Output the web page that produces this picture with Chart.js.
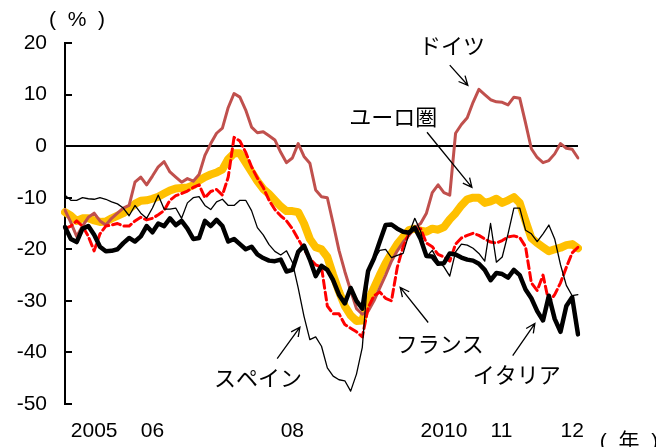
<!DOCTYPE html>
<html>
<head>
<meta charset="utf-8">
<script src="https://cdn.jsdelivr.net/npm/chart.js@4.4.1/dist/chart.umd.min.js"></script>
<style>
  html, body { margin: 0; padding: 0; background: #fff; }
  #wrap { width: 656px; height: 447px; }
</style>
</head>
<body>
<div id="wrap"><canvas id="mycanvas"></canvas></div>
<script>
// monthly, 2005/1 - 2012/5
var years = [2005, 2006, 2007, 2008, 2009, 2010, 2011, 2012];
var months = [];
for (var y = 0; y < years.length; y++) {
  for (var m = 1; m <= 12; m++) {
    if (years[y] == 2012 && m > 5) break;
    months.push(years[y] + '/' + m);
  }
}

var tickMonths = ['2005/2', '2006/2', '2008/2', '2010/2', '2011/2', '2012/2'];
var tickTexts  = ['2005', '06', '08', '2010', '11', '12'];

var germany = [-12.4,-14.8,-17.5,-15.5,-13.8,-13,-14.5,-15.3,-14,-13,-12,-11.5,
  -7,-6,-7.5,-5.8,-4,-3,-5,-6,-7,-6.3,-6.8,-5.5,
  -1.8,0.5,2.5,3.5,7.5,10.2,9.5,7,3.7,2.6,2.8,2,
  1.2,-1.2,-3.2,-2.3,0.5,-2,-3.3,-8.5,-9.8,-10,-15,-20.2,
  -24.3,-28,-31.5,-32.6,-32,-30,-27.5,-25,-22.3,-20.3,-18.6,-17.3,
  -15.8,-15,-13,-9,-7.5,-9,-9.5,2.5,4.2,5.5,8.5,11,
  10,9,8.6,8.5,8,9.5,9.3,4.5,-0.5,-2.2,-3.2,-2.8,
  -1.5,0.5,-0.4,-0.6,-2.3];

var euroArea = [-12.8,-13.5,-14.5,-14,-14,-14.4,-14.7,-14.6,-14,-13.5,-13,-12.2,
  -11.2,-10.6,-10.5,-10.2,-9.8,-9.2,-8.6,-8.2,-8.1,-8,-7.6,-6.7,
  -6,-5.5,-5.1,-4.5,-2.5,-1.4,-1.4,-3.2,-5,-6.8,-8.3,-9.3,
  -10.5,-11.7,-12.6,-12.6,-12.8,-15,-18,-19.6,-20,-21.5,-25,-28.2,
  -31,-32.8,-33.9,-33.8,-30,-27.5,-25,-22.7,-20.8,-19,-17.6,-16.3,
  -16,-16.4,-16.6,-16,-16.2,-15.7,-14.2,-13,-11.5,-10.3,-10,-10,
  -11,-10.7,-10.2,-11,-10.5,-9.9,-11,-14.5,-17.8,-18.8,-19.6,-20.4,
  -20,-19.7,-19.2,-19,-19.8];

var france = [-16,-15.5,-14.5,-15.5,-17.5,-20.3,-17,-15.5,-15.3,-15,-15.5,-15.5,
  -14.5,-13.8,-14.3,-14,-13.3,-12.5,-10.5,-9.6,-9.2,-8.7,-8,-7.5,
  -10,-8.8,-8.4,-9.5,-6,1.7,1,-1.2,-4,-6.2,-8,-10.5,
  -12.3,-13.5,-14.5,-16,-18,-20,-21.8,-23,-23.5,-31,-32.5,-32.5,
  -34.6,-35.3,-36,-37,-31.3,-29,-28.3,-29.5,-30,-23.5,-19.5,-17,
  -16,-16,-18.8,-19.5,-21,-21.5,-22.3,-19,-17.8,-17.3,-16.9,-17.3,
  -18,-18.6,-18.8,-18.3,-17.6,-17.4,-17.7,-19.5,-26.5,-28,-25,-30.3,
  -28.8,-26.5,-23.5,-20.7,-19.6];

var spain = [-9.5,-10.5,-10.5,-10,-10.2,-10.3,-10,-10.3,-10.8,-11.2,-12,-13.5,
  -11.5,-13,-14,-12,-9.5,-12.2,-12.2,-12,-14,-11,-10,-9.8,
  -11.5,-12.3,-10.8,-10.3,-11.5,-11.5,-10.5,-10.5,-12.5,-15.8,-17.2,-19.1,
  -20.4,-21.1,-20.3,-22.5,-27.5,-33,-37.5,-37,-38.8,-43,-44.6,-45.3,
  -45.5,-47.5,-44.2,-39,-24.5,-22,-20.2,-20,-21.6,-21.2,-20.8,-17,
  -14,-16.5,-21.5,-20.2,-22.3,-23.4,-25.2,-20.5,-19,-19.2,-19.8,-20.8,
  -22.3,-15,-22.5,-21.5,-17,-12,-12,-16.3,-17,-18.5,-17,-15.3,
  -18,-23,-27,-29,-28.8];

var italy = [-15.7,-18,-18.6,-16,-15.5,-17.2,-19.5,-20.4,-20.3,-20,-18.8,-17.8,
  -18.5,-17.5,-15.5,-16.7,-15,-15.5,-14,-15.3,-14.5,-16,-18,-17.8,
  -14.5,-15.5,-14.3,-15.5,-18.5,-18,-19,-20,-19.5,-21,-21.7,-22.2,
  -22.3,-22,-24.3,-24,-20.5,-19.3,-22,-25.2,-23.2,-24,-26,-28.8,
  -30.5,-27.5,-30,-31.5,-24.2,-21.8,-18.5,-15.3,-15.2,-16,-16.6,-16.8,
  -15.8,-18,-21.3,-21.4,-22.8,-22.7,-20.8,-21,-21.6,-22,-22.2,-22.8,
  -24,-26,-24.6,-24.8,-25.5,-24,-25,-27.8,-29.5,-32,-33.8,-29,
  -33.5,-36,-31,-29.3,-36.5];

// text notes, placed in data units (month index, %)
var notes = [
  { text: 'ドイツ',   at: [66.4, 19.4],  arrow: [66.0, 15.7, 69.1, 11.8] },
  { text: 'ユーロ圏', at: [56.3, 5.8],   arrow: [62.1, 2.7, 69.8, -8.0] },
  { text: 'スペイン', at: [33.1, -44.9], arrow: [36.4, -41.2, 40.3, -35.1] },
  { text: 'フランス', at: [64.3, -38.3], arrow: [62.3, -34.2, 57.5, -27.4] },
  { text: 'イタリア', at: [77.5, -44.3], arrow: [76.8, -40.6, 80.6, -34.4] }
];

var jpFont = '"Noto Sans CJK JP", sans-serif';
var numFont = '"Liberation Sans", "Noto Sans CJK JP", sans-serif';

var extras = {
  id: 'extras',
  afterDraw: function(chart) {
    var c = chart.ctx, xs = chart.scales.x, ys = chart.scales.y;
    var area = chart.chartArea;
    c.save();
    // inside tick marks on y axis
    c.strokeStyle = '#000';
    c.lineWidth = 2;
    ys.ticks.forEach(function(t) {
      var py = Math.round(ys.getPixelForValue(t.value));
      c.beginPath();
      c.moveTo(area.left, py);
      c.lineTo(area.left + 7, py);
      c.stroke();
    });

    c.fillStyle = '#000';
    c.textBaseline = 'middle';
    c.textAlign = 'center';
    c.font = '21px ' + numFont;
    c.fillText('(  %  )', area.left + 12, area.top - 23);
    c.fillText('(  年  )', area.right + 51, 442);

    c.font = '22px ' + jpFont;
    c.lineWidth = 1.3;
    notes.forEach(function(n) {
      c.fillText(n.text, xs.getPixelForValue(n.at[0]), ys.getPixelForValue(n.at[1]));
      var x1 = xs.getPixelForValue(n.arrow[0]), y1 = ys.getPixelForValue(n.arrow[1]);
      var x2 = xs.getPixelForValue(n.arrow[2]), y2 = ys.getPixelForValue(n.arrow[3]);
      var ang = Math.atan2(y2 - y1, x2 - x1);
      c.beginPath();
      c.moveTo(x1, y1);
      c.lineTo(x2, y2);
      c.moveTo(x2 - 10 * Math.cos(ang - 0.45), y2 - 10 * Math.sin(ang - 0.45));
      c.lineTo(x2, y2);
      c.lineTo(x2 - 10 * Math.cos(ang + 0.45), y2 - 10 * Math.sin(ang + 0.45));
      c.stroke();
    });
    c.restore();
  }
};

Chart.defaults.font.family = '"Liberation Sans", Arial, sans-serif';
Chart.defaults.color = '#000';

var ctx = document.getElementById('mycanvas');
var chart = new Chart(ctx, {
  type: 'line',
  data: {
    labels: months,
    datasets: [
      { label: 'イタリア', data: italy, borderColor: '#000', borderWidth: 4.5 },
      { label: 'スペイン', data: spain, borderColor: '#000', borderWidth: 1.3 },
      { label: 'フランス', data: france, borderColor: '#ff0000', borderWidth: 3, borderDash: [8, 4] },
      { label: 'ドイツ', data: germany, borderColor: '#c0504d', borderWidth: 3 },
      { label: 'ユーロ圏', data: euroArea, borderColor: '#ffc000', borderWidth: 8 }
    ]
  },
  options: {
    responsive: true,
    maintainAspectRatio: false,
    animation: false,
    layout: { padding: { top: 43, right: 78, bottom: 0, left: 0 } },
    elements: {
      point: { radius: 0 },
      line: { tension: 0, borderJoinStyle: 'round', borderCapStyle: 'round', fill: false }
    },
    plugins: { legend: { display: false }, tooltip: { enabled: false } },
    scales: {
      x: {
        grid: { display: false },
        border: { display: false },
        afterFit: function(s) { s.height = 43; },
        ticks: {
          autoSkip: false,
          maxRotation: 0,
          minRotation: 0,
          align: 'start',
          padding: 7,
          font: { size: 21 },
          callback: function(v, i) {
            var k = tickMonths.indexOf(months[i]);
            return k >= 0 ? tickTexts[k] : '';
          }
        }
      },
      y: {
        min: -50,
        max: 20,
        afterFit: function(s) { s.width = 65; },
        border: { display: true, color: '#000', width: 2 },
        grid: {
          drawTicks: false,
          color: function(c) { return c.tick && c.tick.value === 0 ? '#000' : 'rgba(0,0,0,0)'; },
          lineWidth: 2
        },
        ticks: { stepSize: 10, padding: 18, font: { size: 21 } }
      }
    }
  },
  plugins: [extras]
});
</script>
</body>
</html>
